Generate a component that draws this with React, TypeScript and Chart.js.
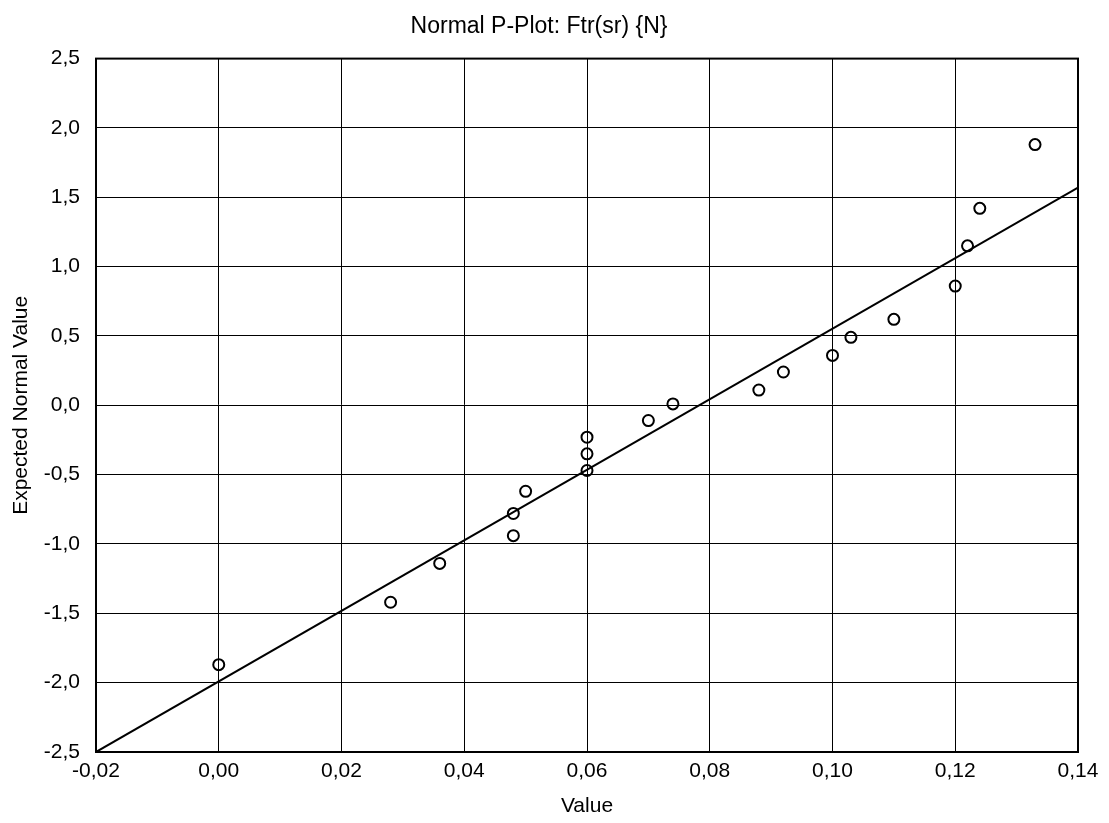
import React, { useEffect, useRef } from "react";
import { Chart, registerables } from "chart.js";

Chart.register(...registerables);

const valueX = [0.0, 0.028, 0.036, 0.048, 0.048, 0.05, 0.06, 0.06, 0.06, 0.07, 0.074, 0.088, 0.092, 0.1, 0.103, 0.11, 0.12, 0.122, 0.124, 0.133];
const expectedY = [-1.87, -1.42, -1.14, -0.94, -0.78, -0.62, -0.47, -0.35, -0.23, -0.11, 0.01, 0.11, 0.24, 0.36, 0.49, 0.62, 0.86, 1.15, 1.42, 1.88];

// Reference (fitted) line end points
const fitX = [-0.02, 0.14];
const fitY = [-2.5, 1.57];

// Axis ticks
const xTickValues = [-0.02, 0.0, 0.02, 0.04, 0.06, 0.08, 0.1, 0.12, 0.14];
const xTickLabels = ["-0,02", "0,00", "0,02", "0,04", "0,06", "0,08", "0,10", "0,12", "0,14"];
const yTickValues = [-2.5, -2.0, -1.5, -1.0, -0.5, 0.0, 0.5, 1.0, 1.5, 2.0, 2.5];
const yTickLabels = ["-2,5", "-2,0", "-1,5", "-1,0", "-0,5", "0,0", "0,5", "1,0", "1,5", "2,0", "2,5"];

const TITLE = "Normal P-Plot: Ftr(sr) {N}";
const X_TITLE = "Value";
const Y_TITLE = "Expected Normal Value";

const FONT = "'Liberation Sans', Arial, Helvetica, sans-serif";

export default function App() {
  const ref = useRef<HTMLCanvasElement | null>(null);

  useEffect(() => {
    if (!ref.current) return;

    const background = {
      id: "bg",
      beforeDraw(chart: any) {
        const { ctx, width, height } = chart;
        ctx.save();
        ctx.fillStyle = "#ffffff";
        ctx.fillRect(0, 0, width, height);
        ctx.restore();
      },
    };

    const frame = {
      id: "frame",
      afterDatasetsDraw(chart: any) {
        const { ctx, chartArea } = chart;
        const { left, top, right, bottom } = chartArea;
        ctx.save();
        ctx.strokeStyle = "#000";
        ctx.lineWidth = 2;
        ctx.strokeRect(left, top, right - left, bottom - top);
        ctx.restore();
      },
    };

    const chart = new Chart(ref.current, {
      type: "scatter",
      data: {
        datasets: [
          {
            type: "line",
            data: fitX.map((x, i) => ({ x, y: fitY[i] })),
            borderColor: "#000",
            borderWidth: 2,
            pointRadius: 0,
            fill: false,
            order: 2,
          } as any,
          {
            data: valueX.map((x, i) => ({ x, y: expectedY[i] })),
            pointRadius: 5.5,
            pointBorderWidth: 2,
            borderColor: "#000",
            backgroundColor: "rgba(0,0,0,0)",
            pointStyle: "circle",
            order: 1,
          },
        ],
      },
      options: {
        responsive: false,
        animation: false,
        events: [],
        layout: { padding: { left: 0, right: 31, top: 0, bottom: 0 } },
        plugins: {
          legend: { display: false },
          tooltip: { enabled: false },
          title: {
            display: true,
            text: TITLE,
            color: "#000",
            font: { family: FONT, size: 23, weight: "normal" },
            padding: { top: 13, bottom: 18 },
          },
        },
        scales: {
          x: {
            type: "linear",
            min: -0.02,
            max: 0.14,
            afterBuildTicks: (s: any) => {
              s.ticks = xTickValues.map((v) => ({ value: v }));
            },
            afterFit: (s: any) => {
              s.height = 71;
            },
            ticks: {
              color: "#000",
              font: { family: FONT, size: 21 },
              padding: 7,
              maxRotation: 0,
              autoSkip: false,
              callback: (_v: any, i: number) => xTickLabels[i],
            },
            grid: { color: "#000", lineWidth: 1, drawTicks: false },
            border: { display: true, color: "#000", width: 2 },
            title: {
              display: true,
              text: X_TITLE,
              color: "#000",
              font: { family: FONT, size: 21, weight: "normal" },
              padding: { top: 0, bottom: 4 },
            },
          },
          y: {
            type: "linear",
            min: -2.5,
            max: 2.5,
            afterBuildTicks: (s: any) => {
              s.ticks = yTickValues.map((v) => ({ value: v }));
            },
            afterFit: (s: any) => {
              s.width = 96;
            },
            ticks: {
              color: "#000",
              font: { family: FONT, size: 21 },
              padding: 16,
              autoSkip: false,
              callback: (_v: any, i: number) => yTickLabels[i],
            },
            grid: { color: "#000", lineWidth: 1, drawTicks: false },
            border: { display: true, color: "#000", width: 2 },
            title: {
              display: true,
              text: Y_TITLE,
              color: "#000",
              font: { family: FONT, size: 21, weight: "normal" },
              padding: { top: 9, bottom: 0 },
            },
          },
        },
      },
      plugins: [background, frame],
    } as any);

    return () => chart.destroy();
  }, []);

  return (
    <div style={{ position: "fixed", left: 0, top: 0, width: 1109, height: 823, background: "#fff" }}>
      <canvas ref={ref} width={1109} height={823} style={{ display: "block", width: 1109, height: 823 }} />
    </div>
  );
}
